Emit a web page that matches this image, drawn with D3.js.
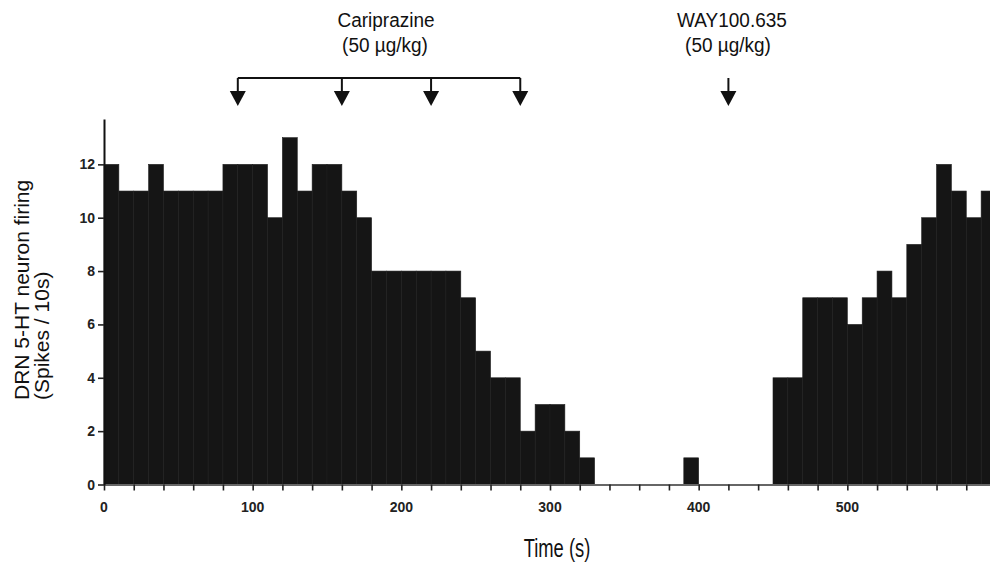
<!DOCTYPE html>
<html lang="en">
<head>
  <meta charset="UTF-8" />
  <title>DRN 5-HT neuron firing - Cariprazine / WAY100.635</title>
  <script src="https://d3js.org/d3.v7.min.js"></script>
  <style>
    body { margin: 0; background: #fff; }
    .tick-label { font-family: "Liberation Sans", Arial, sans-serif; font-weight: bold; font-size: 14px; fill: #222; }
    .note { font-family: "Liberation Sans", Arial, sans-serif; font-size: 20px; fill: #111; }
    .axis-title { font-family: "Liberation Sans", Arial, sans-serif; font-size: 21px; fill: #111; }
  </style>
</head>
<body>
  <svg id="chart" width="990" height="563"></svg>

  <script>
    // bin start times (s), 10 s bins
    const binStarts = d3.range(0, 600, 10);
    // spikes per 10 s bin
    const spikes = [
      12, 11, 11, 12, 11, 11, 11, 11, 12, 12,
      12, 10, 13, 11, 12, 12, 11, 10, 8, 8,
      8, 8, 8, 8, 7, 5, 4, 4, 2, 3,
      3, 2, 1, 0, 0, 0, 0, 0, 0, 1,
      0, 0, 0, 0, 0, 4, 4, 7, 7, 7,
      6, 7, 8, 7, 9, 10, 12, 11, 10, 11
    ];
    const binWidth = 10;
    const yTicks = [0, 2, 4, 6, 8, 10, 12];
    const xLabels = [0, 100, 200, 300, 400, 500];
    const xMinorTicks = d3.range(0, 601, 20);

    // injection times (s)
    const caripTimes = [90, 160, 220, 280];
    const wayTimes = [420];

    const svg = d3.select("#chart");

    const x = d3.scaleLinear().domain([0, 600]).range([104, 996]);
    const y = d3.scaleLinear().domain([0, 13.7]).range([484.5, 119]);

    const data = binStarts.map((t, i) => ({ t: t, v: spikes[i] }));

    // bars
    svg.append("g")
      .selectAll("rect")
      .data(data.filter(d => d.v > 0))
      .enter().append("rect")
        .attr("x", d => x(d.t))
        .attr("y", d => y(d.v))
        .attr("width", d => x(d.t + binWidth) - x(d.t))
        .attr("height", d => y(0) - y(d.v))
        .attr("fill", "#151515")
        .attr("stroke", "#1f1f1f")
        .attr("stroke-width", 0.6);

    // X axis
    const xAxis = svg.append("g")
      .attr("transform", `translate(0,${y(0)})`)
      .call(d3.axisBottom(x).tickValues(xMinorTicks).tickSize(6).tickSizeOuter(0).tickFormat(""));
    xAxis.select(".domain").attr("stroke", "#666").attr("stroke-width", 2.2);
    xAxis.selectAll(".tick line").attr("stroke", "#222").attr("stroke-width", 1.6);

    svg.append("g")
      .selectAll("text")
      .data(xLabels)
      .enter().append("text")
        .attr("class", "tick-label")
        .attr("x", d => x(d))
        .attr("y", y(0) + 27)
        .attr("text-anchor", "middle")
        .text(d => d);

    // Y axis
    const yAxis = svg.append("g")
      .attr("transform", `translate(${x(0)},0)`)
      .call(d3.axisLeft(y).tickValues(yTicks).tickSize(6).tickSizeOuter(0).tickFormat(""));
    yAxis.select(".domain").attr("stroke", "#111").attr("stroke-width", 2);
    yAxis.selectAll(".tick line").attr("stroke", "#222").attr("stroke-width", 1.6);

    svg.append("g")
      .selectAll("text")
      .data(yTicks)
      .enter().append("text")
        .attr("class", "tick-label")
        .attr("x", x(0) - 9)
        .attr("y", d => y(d))
        .attr("dy", "0.36em")
        .attr("text-anchor", "end")
        .text(d => d);

    // Axis titles (the figure's horizontal text is drawn slightly condensed)
    svg.append("text")
      .attr("class", "note")
      .attr("transform", "translate(557,557) scale(0.92,1.25)")
      .attr("text-anchor", "middle")
      .text("Time (s)");

    svg.append("text")
      .attr("class", "axis-title")
      .attr("transform", "translate(29,400) rotate(-90)")
      .text("DRN 5-HT neuron firing");
    svg.append("text")
      .attr("class", "axis-title")
      .attr("transform", "translate(49,400) rotate(-90)")
      .text("(Spikes / 10s)");

    // Injection arrows
    const arrowTop = 78, arrowHead = 91, arrowTip = 106;
    const arrows = svg.append("g");

    arrows.append("line")
      .attr("x1", x(caripTimes[0])).attr("x2", x(caripTimes[caripTimes.length - 1]))
      .attr("y1", arrowTop).attr("y2", arrowTop)
      .attr("stroke", "#111").attr("stroke-width", 2);

    caripTimes.concat(wayTimes).forEach(t => {
      arrows.append("line")
        .attr("x1", x(t)).attr("x2", x(t))
        .attr("y1", arrowTop).attr("y2", arrowHead + 1)
        .attr("stroke", "#111").attr("stroke-width", 2);
      arrows.append("path")
        .attr("d", `M${x(t) - 8},${arrowHead} L${x(t) + 8},${arrowHead} L${x(t)},${arrowTip} Z`)
        .attr("fill", "#111");
    });

    // Drug labels
    const notes = [
      { text: "Cariprazine", x: 386, y: 27 },
      { text: "(50 µg/kg)", x: 385, y: 52 },
      { text: "WAY100.635", x: 732, y: 27 },
      { text: "(50 µg/kg)", x: 728, y: 52 }
    ];
    svg.append("g")
      .selectAll("text")
      .data(notes)
      .enter().append("text")
        .attr("class", "note")
        .attr("transform", d => `translate(${d.x},${d.y}) scale(0.95,1.05)`)
        .attr("text-anchor", "middle")
        .text(d => d.text);
  </script>
</body>
</html>
